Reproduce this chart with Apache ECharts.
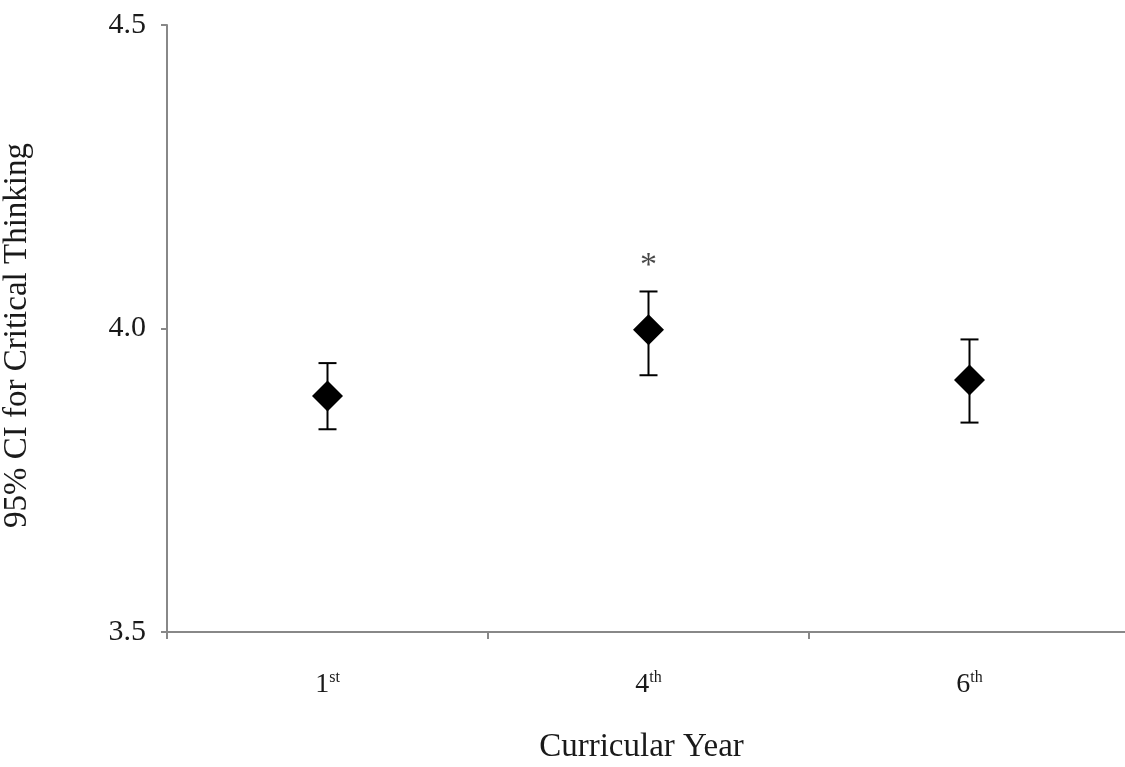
<!DOCTYPE html>
<html>
<head>
<meta charset="utf-8">
<script src="https://cdn.jsdelivr.net/npm/echarts@6/dist/echarts.min.js"></script>
<style>
  html, body { margin: 0; padding: 0; background: #fff; }
  #chart { width: 1125px; height: 767px; }
</style>
</head>
<body>
<div id="chart"></div>
<script>
// curricular years (number + ordinal suffix)
const years = ['1', '4', '6'];
const suffixes = ['st', 'th', 'th'];
// means and 95% CI bounds
const means = [3.889, 3.998, 3.915];
const lower = [3.834, 3.923, 3.845];
const upper = [3.943, 4.061, 3.982];
// significance marks
const notes = ['', '*', ''];

const font = '"Liberation Serif", "Times New Roman", serif';
const textColor = '#1a1a1a';
const chart = echarts.init(document.getElementById('chart'));

const option = {
    backgroundColor: '#fff',
    animation: false,
    grid: {
        left: 167, right: -5, top: 25, bottom: 135,
        containLabel: false,
        outerBoundsMode: 'none'
    },
    xAxis: {
        type: 'category',
        data: years.map((y, i) => y + '|' + suffixes[i]),
        boundaryGap: true,
        name: 'Curricular Year',
        nameLocation: 'middle',
        nameGap: 99,
        nameTextStyle: { fontFamily: font, fontSize: 33, color: textColor, padding: [0, 14, 0, 0] },
        axisLine: { lineStyle: { color: '#888', width: 2 } },
        axisTick: { show: true, length: 7, lineStyle: { color: '#888', width: 2 } },
        axisLabel: {
            margin: 38,
            formatter: (v) => {
                const p = v.split('|');
                return '{n|' + p[0] + '}{s|' + p[1] + '}';
            },
            rich: {
                n: { fontFamily: font, fontSize: 28, color: textColor, lineHeight: 30 },
                s: { fontFamily: font, fontSize: 16, color: textColor, lineHeight: 16, verticalAlign: 'top' }
            }
        },
        splitLine: { show: false }
    },
    yAxis: {
        type: 'value',
        min: 3.5,
        max: 4.5,
        interval: 0.5,
        name: '95% CI for Critical Thinking',
        nameLocation: 'middle',
        nameGap: 133,
        nameTextStyle: { fontFamily: font, fontSize: 33, color: textColor, padding: [0, 14, 0, 0] },
        axisLine: { show: true, lineStyle: { color: '#888', width: 2 } },
        axisTick: { show: true, length: 6, lineStyle: { color: '#888', width: 2 } },
        axisLabel: {
            margin: 21,
            fontFamily: font,
            fontSize: 30,
            color: textColor,
            formatter: (v) => v.toFixed(1)
        },
        splitLine: { show: false }
    },
    series: [
        {
            // error bars
            type: 'custom',
            data: years.map((y, i) => [i, lower[i], upper[i]]),
            renderItem: (params, api) => {
                const lo = api.coord([api.value(0), api.value(1)]);
                const hi = api.coord([api.value(0), api.value(2)]);
                const cap = 9;
                const style = { stroke: '#000', lineWidth: 2 };
                return {
                    type: 'group',
                    children: [
                        { type: 'line', shape: { x1: lo[0], y1: lo[1], x2: hi[0], y2: hi[1] }, style },
                        { type: 'line', shape: { x1: lo[0] - cap, y1: lo[1], x2: lo[0] + cap, y2: lo[1] }, style },
                        { type: 'line', shape: { x1: hi[0] - cap, y1: hi[1], x2: hi[0] + cap, y2: hi[1] }, style }
                    ]
                };
            },
            z: 2
        },
        {
            // means
            type: 'scatter',
            data: means,
            symbol: 'diamond',
            symbolSize: [31, 31],
            itemStyle: { color: '#000', opacity: 1 },
            z: 3
        },
        {
            // asterisk above the upper bound
            type: 'scatter',
            data: upper.map((u, i) => ({ value: u, label: { formatter: notes[i] } })),
            symbolSize: 0,
            label: {
                show: true,
                position: 'top',
                distance: 8,
                fontFamily: font,
                fontSize: 34,
                color: textColor
            },
            z: 4
        }
    ]
};

chart.setOption(option);
</script>
</body>
</html>
